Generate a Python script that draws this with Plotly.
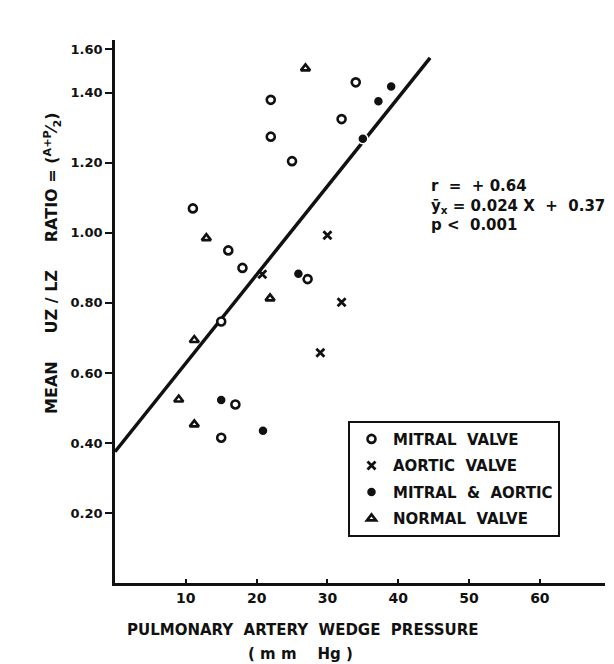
import plotly.graph_objects as go

# ---- data ----
mitral_x = [34, 22, 32, 22, 25, 11, 16, 18, 27.2, 15, 17, 15]
mitral_y = [1.43, 1.38, 1.325, 1.275, 1.205, 1.07, 0.95, 0.90, 0.868, 0.747, 0.51, 0.415]

aortic_x = [30, 20.8, 32, 29]
aortic_y = [0.993, 0.882, 0.802, 0.658]

both_x = [39, 37.2, 35, 25.9, 15, 20.9]
both_y = [1.418, 1.376, 1.269, 0.883, 0.523, 0.435]

normal_x = [26.9, 12.9, 21.9, 11.2, 9, 11.2]
normal_y = [1.47, 0.985, 0.813, 0.694, 0.524, 0.453]

fit_x = [0, 44.5]
fit_y = [0.375, 1.50]

x_ticks = [10, 20, 30, 40, 50, 60]
y_tickvals = [0.2, 0.4, 0.6, 0.8, 1.0, 1.2, 1.4, 1.525]
y_ticktext = ["0.20", "0.40", "0.60", "0.80", "1.00", "1.20", "1.40", "1.60"]

FONT = "DejaVu Sans"
BLACK = "#111111"

fig = go.Figure()

fig.add_trace(go.Scatter(x=fit_x, y=fit_y, mode="lines",
                         line=dict(color=BLACK, width=3.5), showlegend=False,
                         hoverinfo="skip"))

fig.add_trace(go.Scatter(x=mitral_x, y=mitral_y, mode="markers", name="MITRAL  VALVE",
                         legendgroup="a",
                         marker=dict(symbol="circle", size=8, color="white",
                                     line=dict(color=BLACK, width=2.6))))
fig.add_trace(go.Scatter(x=aortic_x, y=aortic_y, mode="markers", name="AORTIC  VALVE",
                         legendgroup="b",
                         marker=dict(symbol="x-thin", size=8, color=BLACK,
                                     line=dict(color=BLACK, width=2.8))))
fig.add_trace(go.Scatter(x=both_x, y=both_y, mode="markers", name="MITRAL  &  AORTIC",
                         legendgroup="c",
                         marker=dict(symbol="circle", size=10, color=BLACK,
                                     line=dict(color="white", width=1.5))))
fig.add_trace(go.Scatter(x=normal_x, y=normal_y, mode="markers", name="NORMAL  VALVE",
                         legendgroup="d",
                         marker=dict(symbol="triangle-up", size=8, color="white",
                                     line=dict(color=BLACK, width=2.6))))

fig.update_layout(
    width=614, height=664,
    margin=dict(l=115, r=9, t=40, b=81),
    paper_bgcolor="white", plot_bgcolor="white",
    font=dict(family=FONT, size=13, color=BLACK, weight="bold"),
    xaxis=dict(range=[0, 69.2], tickvals=x_ticks, ticks="inside", ticklen=4,
               tickwidth=2, tickcolor=BLACK, showgrid=False, zeroline=False,
               showline=True, linecolor=BLACK, linewidth=2.5,
               tickfont=dict(size=14, family=FONT, weight="bold")),
    yaxis=dict(range=[0, 1.551], tickvals=y_tickvals, ticktext=y_ticktext,
               ticks="outside", ticklen=7, tickwidth=2, tickcolor=BLACK,
               showgrid=False, zeroline=False, showline=True, linecolor=BLACK,
               linewidth=2.5, tickfont=dict(size=13, family=FONT, weight="bold")),
    legend=dict(x=0.4755, y=0.299, xanchor="left", yanchor="top",
                bordercolor=BLACK, borderwidth=2, bgcolor="white",
                font=dict(size=15, family=FONT, weight="bold"),
                tracegroupgap=4, itemwidth=33),
    showlegend=True,
)

fig.add_annotation(xref="paper", yref="paper", x=0.641, y=0.752, xanchor="left",
                   yanchor="top", align="left", showarrow=False,
                   text="r  =  + 0.64<br>ȳ<sub>x</sub> = 0.024 X  +  0.37<br>p <  0.001",
                   font=dict(size=15, family=FONT, weight="bold"))

fig.add_annotation(xref="paper", yref="paper", x=-0.128, y=0.59, textangle=-90,
                   showarrow=False, xanchor="center", yanchor="middle",
                   text="MEAN     UZ / LZ     RATIO = (<sup>A+P</sup>⁄<sub>2</sub>)",
                   font=dict(size=16, family=FONT, weight="bold"))

fig.add_annotation(xref="paper", yref="paper", x=0.384, y=-0.066, showarrow=False,
                   xanchor="center", yanchor="top",
                   text="PULMONARY  ARTERY  WEDGE  PRESSURE",
                   font=dict(size=15, family=FONT, weight="bold"))
fig.add_annotation(xref="paper", yref="paper", x=0.378, y=-0.11, showarrow=False,
                   xanchor="center", yanchor="top",
                   text="( m m    Hg )",
                   font=dict(size=15, family=FONT, weight="bold"))

fig.write_html("out.html")
